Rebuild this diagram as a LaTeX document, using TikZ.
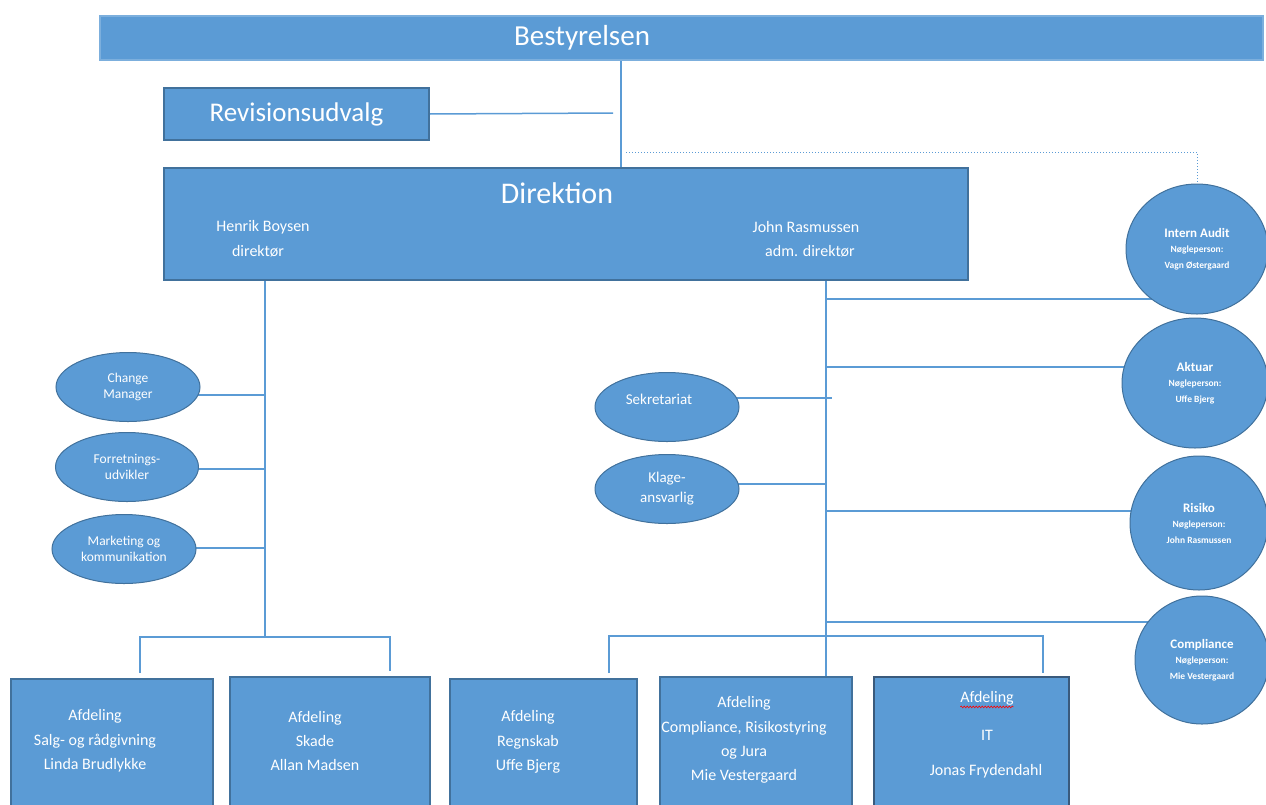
\documentclass[tikz,border=0pt]{standalone}
\usepackage{fontspec}
\setmainfont{Carlito}
\usetikzlibrary{shapes.geometric,decorations.pathmorphing}
\definecolor{fillb}{HTML}{5B9BD5}
\definecolor{edgeb}{HTML}{41719C}
\definecolor{lineb}{HTML}{5B9BD5}
\definecolor{darkb}{HTML}{3A5A7C}
\pgfdeclarelayer{bg}
\pgfsetlayers{bg,main}
\begin{document}
\begin{tikzpicture}[x=1pt,y=-1pt,
  box/.style={rectangle, draw=edgeb, fill=fillb, line width=1.2pt, inner sep=0pt, outer sep=0pt},
  ell/.style={ellipse, draw=edgeb, fill=fillb, line width=1pt, inner sep=0pt, outer sep=0pt, text=white, align=center},
  smell/.style={ell, font=\fontsize{13.5}{16}\selectfont},
  midell/.style={ell, font=\fontsize{15}{20}\selectfont},
  circ/.style={ell, font=\fontsize{9.5}{15.5}\selectfont\bfseries},
  txt/.style={text=white, inner sep=0pt, outer sep=0pt, align=center},
  boxtxt/.style={txt, font=\fontsize{16}{24.3}\selectfont},
  conn/.style={draw=lineb, line width=1.5pt},
  ]
\useasboundingbox (0,0) rectangle (1266,804);

% top boxes
\node[box, draw=fillb!80!white, minimum width=1163, minimum height=44] (bst) at (681.5,38) {};
\node[txt, font=\fontsize{29}{32}\selectfont] (bstt) at (582,38) {Bestyrelsen};
\node[box, minimum width=265, minimum height=52, text=white, font=\fontsize{27}{30}\selectfont] (rev) at (296.5,114) {Revisionsudvalg};
\node[box, minimum width=804, minimum height=112] (dir) at (566,224) {};
\node[txt, font=\fontsize{30}{32}\selectfont] (dirt) at (557,193) {Direktion};
\node[txt, font=\fontsize{16}{20}\selectfont] (hb1) at (263,227) {Henrik Boysen};
\node[txt, font=\fontsize{16}{20}\selectfont] (hb2) at (258,251) {direktør};
\node[txt, font=\fontsize{16}{20}\selectfont] (jr1) at (806,227) {John Rasmussen};
\node[txt, font=\fontsize{16}{20}\selectfont] (jr2) at (810,251) {adm. direktør};

% left ellipses
\node[smell, minimum width=144, minimum height=69] (cm) at (128,387) {Change\\Manager};
\node[smell, minimum width=143, minimum height=69] (fu) at (127,467) {Forretnings-\\udvikler};
\node[smell, minimum width=144, minimum height=69] (mk) at (124,549) {Marketing og\\kommunikation};

% middle ellipses
\node[midell, minimum width=144, minimum height=69] (sek) at (667,407) {};
\node[txt, font=\fontsize{15}{20}\selectfont] (sekt) at (659,399) {Sekretariat};
\node[midell, minimum width=144, minimum height=69] (kl) at (667,489) {Klage-\\ansvarlig};

% right circles
\node[circ, minimum width=142, minimum height=130] (ia) at (1197,249)
  {{\fontsize{13}{15.5}\selectfont Intern Audit}\\Nøgleperson:\\Vagn Østergaard};
\node[circ, minimum width=146, minimum height=130] (ak) at (1195,383)
  {{\fontsize{13}{15.5}\selectfont Aktuar}\\Nøgleperson:\\Uffe Bjerg};
\node[circ, minimum width=138, minimum height=134] (ri) at (1199,523)
  {{\fontsize{13}{15.5}\selectfont Risiko}\\Nøgleperson:\\John Rasmussen};
\node[circ, minimum width=134, minimum height=128] (co) at (1202,660)
  {{\fontsize{13}{15.5}\selectfont Compliance}\\Nøgleperson:\\Mie Vestergaard};

% bottom boxes
\node[box, minimum width=202, minimum height=131] (b1) at (112,744.5) {};
\node[box, minimum width=200, minimum height=133] (b2) at (330,743.5) {};
\node[box, minimum width=187, minimum height=131] (b3) at (543.5,744.5) {};
\node[box, minimum width=192, minimum height=133] (b4) at (756,743.5) {};
\node[box, draw=darkb, line width=1.5pt, minimum width=195, minimum height=133] (b5) at (971.5,743.5) {};

\node[boxtxt] (b1t) at (95,741) {Afdeling\\Salg- og rådgivning\\Linda Brudlykke};
\node[boxtxt] (b2t) at (315,741) {Afdeling\\Skade\\Allan Madsen};
\node[boxtxt] (b3t) at (528,742) {Afdeling\\Regnskab\\Uffe Bjerg};
\node[boxtxt] (b4t) at (744,740) {Afdeling\\Compliance, Risikostyring\\og Jura\\Mie Vestergaard};
\node[boxtxt] (b5a) at (987,698) {Afdeling};
\node[boxtxt] (b5b) at (987,735) {IT};
\node[boxtxt] (b5c) at (986,771) {Jonas Frydendahl};
\draw[red, line width=0.6pt, decorate, decoration={snake, segment length=3pt, amplitude=0.9pt}]
  ([yshift=-2pt]b5a.south west) -- ([yshift=-2pt]b5a.south east);

% coordinates
\coordinate (vx) at (621,0);
\coordinate (revend) at (613,113);
\coordinate (dotstart) at (626,152);
\coordinate (lx) at (265,0);
\coordinate (lbar) at (265,637);
\coordinate (lj1) at (265,395);
\coordinate (lj2) at (265,469);
\coordinate (lj3) at (265,548);
\coordinate (lb1) at (140,637);
\coordinate (lb2) at (390,637);
\coordinate (rx) at (826,0);
\coordinate (rj1) at (826,299);
\coordinate (rj2) at (826,367);
\coordinate (rj3) at (826,511);
\coordinate (rj4) at (826,622);
\coordinate (sj) at (832,398);
\coordinate (kj) at (826,484);
\coordinate (rb1) at (609,636);
\coordinate (rb2) at (1043,636);

\begin{pgfonlayer}{bg}
\draw[conn] (bst.south -| vx) -- (dir.north -| vx);
\draw[conn] (rev.east) -- (revend);
\draw[draw=lineb, line width=1pt, dotted] (dotstart) -- (dotstart -| ia.north) -- (ia.north);
\draw[conn] (dir.south -| lx) -- (lbar);
\draw[conn] (lj1) -- (lj1 -| cm.center);
\draw[conn] (lj2) -- (lj2 -| fu.center);
\draw[conn] (lj3) -- (lj3 -| mk.center);
\draw[conn, shorten <=6pt, shorten >=6pt] (b1.north -| lb1) -- (lb1) -- (lb2) -- (b2.north -| lb2);
\draw[conn, line width=2.5pt] (dir.south -| rx) -- (b4.north -| rx);
\draw[conn] (rj1) -- (rj1 -| ia.center);
\draw[conn] (rj2) -- (rj2 -| ak.center);
\draw[conn] (rj3) -- (rj3 -| ri.center);
\draw[conn] (rj4) -- (rj4 -| co.center);
\draw[conn, line width=2pt] (sek.center |- sj) -- (sj);
\draw[conn] (kl.center |- kj) -- (kj);
\draw[conn, shorten <=6pt, shorten >=4pt] (b3.north -| rb1) -- (rb1) -- (rb2) -- (b5.north -| rb2);
\end{pgfonlayer}
\end{tikzpicture}
\end{document}
